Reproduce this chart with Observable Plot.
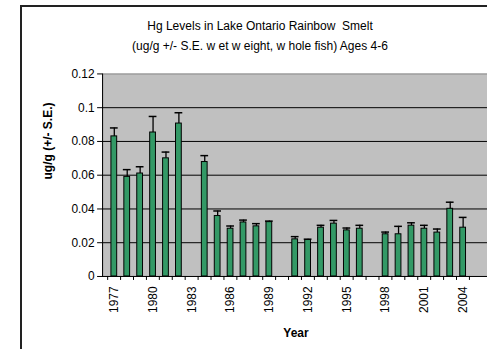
<!DOCTYPE html>
<html><head><meta charset="utf-8">
<script src="https://cdn.jsdelivr.net/npm/d3@7"></script>
<script src="https://cdn.jsdelivr.net/npm/@observablehq/plot@0.6"></script>
<style>
html,body{margin:0;padding:0;background:#fff;overflow:hidden}
#wrap{position:relative;width:487px;height:349px;overflow:hidden;font-family:"Liberation Sans",Arial,sans-serif;color:#000;background:#fff}
#border{position:absolute;left:20px;top:5px;width:700px;height:500px;border-left:2px solid #222;border-top:2px solid #222}
#title{position:absolute;left:0;top:16px;width:520px;text-align:center;font-size:12px;line-height:20px;white-space:pre}
#chart{position:absolute;left:0;top:62px}
#ylab{position:absolute;left:48px;top:141px;transform:translate(-50%,-50%) rotate(-90deg);font-weight:bold;font-size:12px;white-space:nowrap}
#xlab{position:absolute;left:296px;top:333px;transform:translate(-50%,-50%);font-weight:bold;font-size:12px;white-space:nowrap}
</style>
</head><body>
<div id="wrap">
  <div id="border"></div>
  <div id="title">Hg Levels in Lake Ontario Rainbow  Smelt
(ug/g +/- S.E. w et w eight, w hole fish) Ages 4-6</div>
  <div id="chart"></div>
  <div id="ylab">ug/g (+/- S.E.)</div>
  <div id="xlab">Year</div>
</div>
<script>
// Categories (all years on the axis)
const years = [1977,1978,1979,1980,1981,1982,1983,1984,1985,1986,1987,1988,1989,1990,1991,1992,1993,1994,1995,1996,1997,1998,1999,2000,2001,2002,2003,2004,2005];
// Years with data
const dataYears = [1977,1978,1979,1980,1981,1982,1984,1985,1986,1987,1988,1989,1991,1992,1993,1994,1995,1996,1998,1999,2000,2001,2002,2003,2004];
// Mean Hg (ug/g)
const means = [0.083,0.059,0.061,0.0853,0.070,0.0906,0.0678,0.0358,0.0283,0.032,0.0297,0.0322,0.022,0.0216,0.0289,0.0313,0.0273,0.0283,0.025,0.025,0.0301,0.0283,0.026,0.0401,0.0289];
// Standard errors
const ses = [0.005,0.0043,0.004,0.0095,0.0037,0.0064,0.0038,0.003,0.0016,0.0014,0.0016,0.0006,0.0016,0.0005,0.0014,0.0019,0.0014,0.002,0.0013,0.0047,0.0017,0.002,0.0021,0.0039,0.0061];
// Tick labels
const xLabels = [1977,1980,1983,1986,1989,1992,1995,1998,2001,2004];
const yTicks = [0,0.02,0.04,0.06,0.08,0.1,0.12];
const yGrid = [0.02,0.04,0.06,0.08,0.1];

const data = dataYears.map((y,i) => ({year: y, mean: means[i], upper: means[i] + ses[i]}));

const W = 490;
const step = (W - 102.7) / years.length;

const chart = Plot.plot({
  width: W,
  height: 287,
  marginTop: 11.5,
  marginBottom: 71.7,
  marginLeft: 102.7,
  marginRight: 0,
  style: {fontFamily: "Liberation Sans, Arial, sans-serif", fontSize: "12px", color: "#000", background: "transparent"},
  x: {type: "band", domain: years, padding: 0},
  y: {domain: [0, 0.12]},
  marks: [
    Plot.frame({fill: "#c0c0c0", stroke: "#808080"}),
    Plot.gridY(yGrid, {stroke: "#000", strokeOpacity: 1, strokeWidth: 1}),
    Plot.ruleX(data, {x: "year", y1: "mean", y2: "upper", stroke: "#000", strokeWidth: 1.3}),
    Plot.tickY(data, {x: "year", y: "upper", stroke: "#000", strokeWidth: 1.5, insetLeft: 2.6, insetRight: 2.6}),
    Plot.barY(data, {x: "year", y: "mean", fill: "#339966", stroke: "#000", strokeWidth: 1, insetLeft: 3.6, insetRight: 3.6}),
    Plot.ruleY([0], {stroke: "#000"}),
    Plot.frame({anchor: "left", stroke: "#000"}),
    Plot.axisY({ticks: yTicks, tickFormat: d => String(+d.toFixed(2)), tickSize: 5, tickPadding: 3, fontSize: 12, label: null}),
    Plot.axisX({ticks: years, tickFormat: () => "", tickSize: 4, dx: -step / 2, label: null}),
    Plot.axisX({ticks: xLabels, tickFormat: d => String(d), tickSize: 0, tickPadding: 10, tickRotate: -90, fontSize: 12, label: null})
  ]
});
document.getElementById("chart").appendChild(chart);
</script>
</body></html>
